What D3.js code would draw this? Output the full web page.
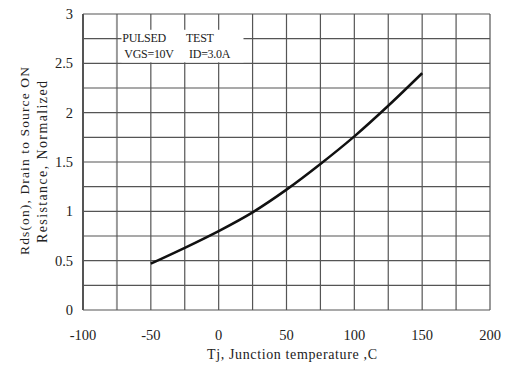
<!DOCTYPE html>
<html lang="en">
<head>
<meta charset="utf-8">
<title>Rds(on) vs Tj</title>
<script src="https://d3js.org/d3.v7.min.js"></script>
<style>
  body { margin: 0; background: #fff; }
  text { font-family: "Liberation Serif", "DejaVu Serif", serif; fill: #222; }
</style>
</head>
<body>
<div id="chart"></div>
<script>
// Curve
var temps = [-50, -25, 0, 25, 50, 75, 100, 125, 150];
var rdsOn = [0.47, 0.63, 0.80, 0.99, 1.22, 1.48, 1.76, 2.07, 2.40];

// ticks and grid
var xTicks = [-100, -50, 0, 50, 100, 150, 200];
var xGrid = [-100, -75, -50, -25, 0, 25, 50, 75, 100, 125, 150, 175, 200];
var yTicks = [0, 0.5, 1, 1.5, 2, 2.5, 3];
var yGrid = [0, 0.25, 0.5, 0.75, 1, 1.25, 1.5, 1.75, 2, 2.25, 2.5, 2.75, 3];

// test conditions note, two words per line
var noteWords = [["PULSED", "TEST"], ["VGS=10V", "ID=3.0A"]];

var width = 505, height = 367;
// plot edges (can't call it "top", window.top is taken)
var plotLeft = 83, plotRight = 490, plotTop = 14, plotBottom = 310;

var svg = d3.select("#chart").append("svg")
    .attr("width", width)
    .attr("height", height);

var x = d3.scaleLinear().domain([-100, 200]).range([plotLeft, plotRight]);
var y = d3.scaleLinear().domain([0, 3]).range([plotBottom, plotTop]);

// grid lines
svg.append("g").selectAll("line")
    .data(xGrid)
    .enter().append("line")
    .attr("x1", function(d){ return x(d); })
    .attr("x2", function(d){ return x(d); })
    .attr("y1", plotTop)
    .attr("y2", plotBottom)
    .attr("stroke", function(d){ return d == -75 ? "#999" : "#555"; })
    .attr("stroke-width", function(d){ return (d == -75 || d == -100) ? 2 : 1.2; });

svg.append("g").selectAll("line")
    .data(yGrid)
    .enter().append("line")
    .attr("x1", plotLeft)
    .attr("x2", plotRight)
    .attr("y1", function(d){ return y(d); })
    .attr("y2", function(d){ return y(d); })
    .attr("stroke", "#555")
    .attr("stroke-width", 1.2);

// white box behind the test conditions (stops just above the 2.5 line)
svg.append("rect")
    .attr("x", x(-71.6))
    .attr("y", y(2.84))
    .attr("width", x(18.3) - x(-71.6))
    .attr("height", y(2.51) - y(2.84))
    .attr("fill", "#fff");

var note = svg.append("g").selectAll("g")
    .data(noteWords)
    .enter().append("g");

note.append("text")
    .attr("x", function(d, i){ return x(-71) + i * 2; })
    .attr("y", function(d, i){ return y(2.68) - 4 + i * 16; })
    .attr("font-size", 12)
    .attr("letter-spacing", -0.3)
    .text(function(d){ return d[0]; });

note.append("text")
    .attr("x", function(d, i){ return x(-24) + i * 3; })
    .attr("y", function(d, i){ return y(2.68) - 4 + i * 16; })
    .attr("font-size", 12)
    .attr("letter-spacing", -0.3)
    .text(function(d){ return d[1]; });

// the curve
var line = d3.line()
    .x(function(d){ return x(d[0]); })
    .y(function(d){ return y(d[1]); })
    .curve(d3.curveMonotoneX);

svg.append("path")
    .datum(temps.map(function(t, i){ return [t, rdsOn[i]]; }))
    .attr("d", line)
    .attr("fill", "none")
    .attr("stroke", "#111")
    .attr("stroke-width", 2.5);

// tick labels
svg.append("g").selectAll("text")
    .data(xTicks)
    .enter().append("text")
    .attr("x", function(d){ return x(d); })
    .attr("y", 340)
    .attr("text-anchor", "middle")
    .attr("font-size", 14.5)
    .text(function(d){ return d; });

svg.append("g").selectAll("text")
    .data(yTicks)
    .enter().append("text")
    .attr("x", 73)
    .attr("y", function(d){ return y(d) + 5; })
    .attr("text-anchor", "end")
    .attr("font-size", 14.5)
    .text(function(d){ return d; });

// axis titles
svg.append("text")
    .attr("x", 292)
    .attr("y", 359)
    .attr("text-anchor", "middle")
    .attr("font-size", 14)
    .attr("textLength", 170)
    .attr("lengthAdjust", "spacing")
    .text("Tj, Junction temperature ,C");

svg.append("text")
    .attr("transform", "translate(29,161) rotate(-90)")
    .attr("text-anchor", "middle")
    .attr("font-size", 13.5)
    .attr("textLength", 188)
    .attr("lengthAdjust", "spacing")
    .text("Rds(on), Drain to Source ON");

svg.append("text")
    .attr("transform", "translate(47,162) rotate(-90)")
    .attr("text-anchor", "middle")
    .attr("font-size", 14)
    .attr("textLength", 162)
    .attr("lengthAdjust", "spacing")
    .text("Resistance, Normalized");
</script>
</body>
</html>
